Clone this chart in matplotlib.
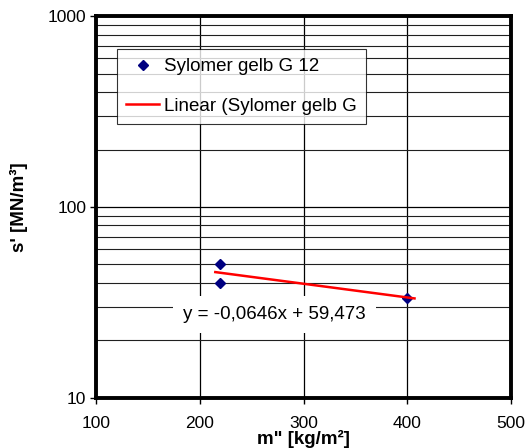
import numpy as np
import matplotlib.pyplot as plt
from matplotlib.ticker import LogLocator, NullFormatter

plt.rcParams['font.family'] = ['Liberation Sans', 'DejaVu Sans']

# measured points
mass = [220, 220, 400]
stiffness = [50.3, 40.2, 33.5]

# Excel linear trendline
slope = -0.0646
intercept = 59.473
fit_x = np.array([215, 407])

x_ticks = [100, 200, 300, 400, 500]
y_ticks = [10, 100, 1000]

fig = plt.figure(figsize=(5.26, 4.48), dpi=100)
ax = fig.add_axes([0.1825, 0.112, 0.789, 0.852])

ax.set_yscale('log')
ax.set_xlim(100, 500)
ax.set_ylim(10, 1000)

ax.set_xticks(x_ticks)
ax.set_xticklabels([str(t) for t in x_ticks])
ax.set_yticks(y_ticks)
ax.set_yticklabels([str(t) for t in y_ticks])
ax.yaxis.set_minor_locator(LogLocator(base=10, subs=np.arange(2, 10)))
ax.yaxis.set_minor_formatter(NullFormatter())
ax.tick_params(axis='both', which='major', direction='out', length=4,
               width=1, labelsize=12.5, pad=3)
ax.tick_params(axis='x', which='major', pad=9)
ax.tick_params(axis='y', which='minor', length=0)

ax.grid(True, which='major', axis='both', color='black', linewidth=0.9)
ax.grid(True, which='minor', axis='y', color='#202020', linewidth=0.8)
ax.set_axisbelow(True)

for side in ax.spines.values():
    side.set_linewidth(2.8)
    side.set_color('black')

ax.plot(mass, stiffness, linestyle='none', marker='D', markersize=4.8,
        color='#000080', label='Sylomer gelb G 12', zorder=3)
ax.plot(fit_x, slope * fit_x + intercept, color='#ff0000', linewidth=1.8,
        label='Linear (Sylomer gelb G', zorder=4)

leg = ax.legend(loc='upper left', bbox_to_anchor=(0.05, 0.915), fontsize=13.5,
                frameon=True, fancybox=False, edgecolor='black',
                labelspacing=1.2, handlelength=1.75, borderpad=0.5,
                handletextpad=0.27, borderaxespad=0)
leg.get_frame().set_linewidth(0.8)

ax.text(272, 27.4, 'y = -0,0646x + 59,473', fontsize=13.5, ha='center',
        va='center', zorder=5,
        bbox=dict(facecolor='white', edgecolor='none', pad=7))

ax.set_xlabel('m" [kg/m\u00b2]', fontsize=13.5, fontweight='bold', labelpad=-1)
ax.set_ylabel("s' [MN/m\u00b3]", fontsize=13.5, fontweight='bold', labelpad=14)

fig.savefig('out.png', dpi=100)
